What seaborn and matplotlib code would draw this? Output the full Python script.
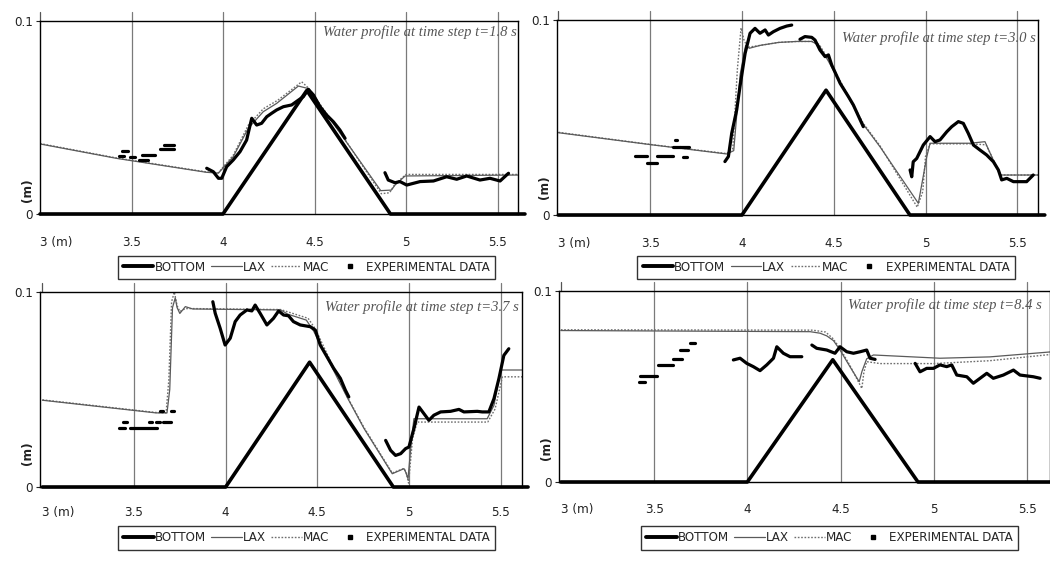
import numpy as np
import pandas as pd
import matplotlib
matplotlib.use("Agg")
import matplotlib.pyplot as plt
from matplotlib.lines import Line2D
from matplotlib import font_manager
import seaborn as sns

# ---------------- data ----------------
X_TICKS = [3.0, 3.5, 4.0, 4.5, 5.0, 5.5]
X_TICK_LABELS = ["3 (m)", "3.5", "4", "4.5", "5", "5.5"]
Y_TICKS = [0.0, 0.1]
Y_TICK_LABELS = ["0", "0.1"]
TITLES = ["Water profile at time step t=1.8 s", "Water profile at time step t=3.0 s",
          "Water profile at time step t=3.7 s", "Water profile at time step t=8.4 s"]
LEGEND_LABELS = ["BOTTOM", "LAX", "MAC", "EXPERIMENTAL DATA"]

BOTTOM_X = [3.0, 4.0, 4.458, 4.915, 5.65]
BOTTOM_Y = [0.0, 0.0, 0.064, 0.0, 0.0]

# panel 1 (t=1.8 s)
P1_LAX_X = [3.0, 3.42, 3.91, 3.975, 4.056, 4.138, 4.22, 4.293, 4.412, 4.466, 4.667, 4.862, 4.92, 4.94, 4.995, 5.62]
P1_LAX_Y = [0.0363, 0.0288, 0.0216, 0.0212, 0.0297, 0.0444, 0.053, 0.0573, 0.0663, 0.065, 0.0383, 0.0121, 0.0124, 0.015, 0.0197, 0.0202]
P1_MAC_X = [3.0, 3.42, 3.91, 3.975, 4.056, 4.138, 4.22, 4.3, 4.43, 4.47, 4.667, 4.865, 4.91, 4.94, 5.0, 5.62]
P1_MAC_Y = [0.0365, 0.029, 0.0218, 0.0214, 0.0305, 0.046, 0.0545, 0.059, 0.0685, 0.065, 0.0385, 0.0105, 0.011, 0.0155, 0.0205, 0.0205]
P1_EXP_X = [3.43, 3.46, None, 3.45, 3.48, None, 3.49, 3.52, None, 3.54, 3.59, None, 3.56, 3.63, None,
            3.655, 3.73, None, 3.68, 3.73, None,
            3.911, 3.947, 3.975, 3.993, 4.02, 4.056, 4.093, 4.129, 4.157, 4.184, 4.211, 4.239, 4.266,
            4.293, 4.33, 4.375, 4.412, 4.439, 4.466, 4.494, 4.53, 4.566, 4.603, 4.639, 4.667, None,
            4.885, 4.903, 4.94, 4.967, 5.004, 5.077, 5.15, 5.222, 5.277, 5.332, 5.404, 5.459, 5.514, 5.56]
P1_EXP_Y = [0.030, 0.030, None, 0.0326, 0.0326, None, 0.0294, 0.0294, None, 0.028, 0.028, None, 0.0306, 0.0306, None,
            0.0337, 0.0337, None, 0.0357, 0.0357, None,
            0.0237, 0.0219, 0.0185, 0.0185, 0.0245, 0.028, 0.0323, 0.0383, 0.0496, 0.0461, 0.047, 0.0504, 0.0522,
            0.0539, 0.0556, 0.0565, 0.059, 0.0608, 0.0646, 0.0617, 0.0556, 0.0513, 0.0478, 0.0435, 0.0392, None,
            0.0214, 0.0176, 0.0162, 0.0168, 0.015, 0.0168, 0.0171, 0.0193, 0.018, 0.0197, 0.0176, 0.0185, 0.0171, 0.0211]

# panel 2 (t=3.0 s)
P2_LAX_X = [3.0, 3.517, 3.917, 3.955, 3.99, 4.02, 4.04, 4.1, 4.2, 4.3, 4.38, 4.42, 4.47, 4.661, 4.752, 4.961, 5.007, 5.025, 5.243, 5.324, 5.406, 5.62]
P2_LAX_Y = [0.0422, 0.0359, 0.0313, 0.033, 0.072, 0.087, 0.0855, 0.087, 0.0885, 0.089, 0.089, 0.087, 0.079, 0.0465, 0.035, 0.006, 0.0299, 0.0368, 0.0368, 0.0376, 0.0205, 0.0205]
P2_MAC_X = [3.0, 3.517, 3.917, 3.95, 3.975, 3.995, 4.01, 4.03, 4.1, 4.2, 4.3, 4.38, 4.42, 4.47, 4.661, 4.752, 4.955, 4.985, 5.0, 5.025, 5.243, 5.33, 5.41, 5.62]
P2_MAC_Y = [0.0424, 0.036, 0.0315, 0.034, 0.075, 0.096, 0.09, 0.086, 0.087, 0.0885, 0.089, 0.089, 0.0875, 0.08, 0.047, 0.0355, 0.004, 0.012, 0.03, 0.0365, 0.0365, 0.036, 0.0205, 0.0205]
P2_EXP_X = [3.417, 3.48, None, 3.48, 3.535, None, 3.535, 3.626, None, 3.626, 3.66, None, 3.635, 3.645, None,
            3.66, 3.71, None, 3.68, 3.70, None,
            3.907, 3.926, 3.944, 3.971, 3.989, 4.017, 4.044, 4.071, 4.098, 4.126, 4.144, 4.171, 4.207, 4.244, 4.271, None,
            4.316, 4.343, 4.38, 4.398, 4.425, 4.453, 4.471, 4.489, 4.535, 4.58, 4.607, 4.661, None,
            4.916, 4.925, 4.933, 4.952, 4.988, 5.025, 5.052, 5.079, 5.116, 5.143, 5.179, 5.206, 5.233, 5.261,
            5.297, 5.333, 5.37, 5.397, 5.415, 5.443, 5.479, 5.551, 5.587]
P2_EXP_Y = [0.0303, 0.0303, None, 0.0268, 0.0268, None, 0.0303, 0.0303, None, 0.035, 0.035, None, 0.0385, 0.0385, None,
            0.035, 0.035, None, 0.030, 0.030, None,
            0.0274, 0.03, 0.0419, 0.0538, 0.0658, 0.0829, 0.0932, 0.0957, 0.0932, 0.0949, 0.0923, 0.094, 0.0957, 0.0969, 0.0974, None,
            0.0901, 0.0915, 0.0911, 0.0897, 0.0846, 0.0812, 0.0821, 0.0769, 0.0675, 0.0607, 0.0564, 0.0453, None,
            0.0231, 0.0196, 0.0273, 0.029, 0.0359, 0.0402, 0.0376, 0.0385, 0.0427, 0.0453, 0.0479, 0.047, 0.0419, 0.0359,
            0.0333, 0.0308, 0.0273, 0.0231, 0.018, 0.0188, 0.0171, 0.0171, 0.0205]

# panel 3 (t=3.7 s)
P3_LAX_X = [3.0, 3.62, 3.68, 3.695, 3.71, 3.725, 3.735, 3.75, 3.78, 3.82, 4.3, 4.34, 4.44, 4.48, 4.662, 4.755, 4.909, 4.973, 4.982, 4.995, 5.01, 5.027, 5.427, 5.464, 5.5, 5.62]
P3_LAX_Y = [0.0445, 0.038, 0.038, 0.05, 0.092, 0.097, 0.092, 0.089, 0.0925, 0.0913, 0.0908, 0.0886, 0.0856, 0.080, 0.0462, 0.030, 0.0068, 0.0094, 0.0077, 0.0043, 0.02, 0.035, 0.035, 0.0419, 0.060, 0.060]
P3_MAC_X = [3.0, 3.62, 3.675, 3.69, 3.705, 3.72, 3.735, 3.75, 3.78, 3.82, 4.3, 4.35, 4.45, 4.49, 4.662, 4.755, 4.909, 4.973, 4.985, 4.998, 5.02, 5.045, 5.43, 5.47, 5.51, 5.62]
P3_MAC_Y = [0.0447, 0.0382, 0.038, 0.055, 0.095, 0.1, 0.093, 0.09, 0.0915, 0.0915, 0.091, 0.0895, 0.0865, 0.081, 0.0465, 0.0305, 0.0072, 0.0095, 0.0075, 0.002, 0.025, 0.0333, 0.0333, 0.040, 0.0565, 0.0565]
P3_EXP_X = [3.42, 3.45, None, 3.478, 3.624, None, 3.44, 3.46, None, 3.58, 3.60, None, 3.62, 3.64, None,
            3.64, 3.66, None, 3.66, 3.70, None, 3.70, 3.72, None,
            3.93, 3.943, 3.97, 3.997, 4.025, 4.052, 4.079, 4.116, 4.143, 4.161, 4.188, 4.225, 4.261, 4.289, 4.316,
            4.343, 4.37, 4.407, 4.462, 4.489, 4.516, 4.589, 4.626, 4.653, 4.672, None,
            4.873, 4.9, 4.927, 4.955, 4.982, 5.0, 5.027, 5.055, 5.082, 5.109, 5.136, 5.173, 5.227, 5.273, 5.3,
            5.373, 5.4, 5.436, 5.464, 5.491, 5.518, 5.545]
P3_EXP_Y = [0.0304, 0.0304, None, 0.0304, 0.0304, None, 0.0335, 0.0335, None, 0.0335, 0.0335, None, 0.0335, 0.0335, None,
            0.039, 0.039, None, 0.0335, 0.0335, None, 0.039, 0.039, None,
            0.095, 0.0891, 0.0814, 0.0728, 0.0763, 0.0848, 0.0882, 0.0908, 0.0903, 0.0933, 0.0891, 0.0831, 0.0865, 0.0903, 0.0882,
            0.0878, 0.0848, 0.0831, 0.0822, 0.0805, 0.0728, 0.0609, 0.0557, 0.0497, 0.0462, None,
            0.0239, 0.0188, 0.0162, 0.0171, 0.0197, 0.0205, 0.0299, 0.041, 0.0376, 0.0342, 0.0368, 0.0385, 0.0388, 0.0398, 0.0385,
            0.0388, 0.0385, 0.0385, 0.0453, 0.0556, 0.0675, 0.0709]

# panel 4 (t=8.4 s)
P4_LAX_X = [3.0, 4.337, 4.39, 4.426, 4.462, 4.497, 4.55, 4.6, 4.615, 4.64, 4.676, 5.033, 5.3, 5.65]
P4_LAX_Y = [0.0793, 0.0787, 0.0779, 0.0765, 0.074, 0.0691, 0.0604, 0.0525, 0.058, 0.0645, 0.0665, 0.0648, 0.0655, 0.0683]
P4_MAC_X = [3.0, 4.35, 4.42, 4.46, 4.5, 4.55, 4.614, 4.625, 4.64, 4.712, 5.0, 5.3, 5.65]
P4_MAC_Y = [0.0797, 0.0795, 0.0785, 0.075, 0.0695, 0.061, 0.049, 0.0575, 0.063, 0.062, 0.062, 0.0635, 0.067]
P4_EXP_X = [3.426, 3.514, None, 3.42, 3.45, None, 3.52, 3.60, None, 3.60, 3.65, None, 3.64, 3.68, None, 3.69, 3.72, None,
            3.925, 3.961, 3.997, 4.032, 4.068, 4.104, 4.14, 4.158, 4.193, 4.229, 4.292, None,
            4.346, 4.372, 4.426, 4.47, 4.497, 4.533, 4.569, 4.605, 4.64, 4.658, 4.685, None,
            4.9, 4.926, 4.962, 4.998, 5.033, 5.069, 5.096, 5.123, 5.177, 5.212, 5.248, 5.284, 5.319, 5.373, 5.427, 5.462, 5.534, 5.57]
P4_EXP_Y = [0.0555, 0.0555, None, 0.0524, 0.0524, None, 0.0613, 0.0613, None, 0.0642, 0.0642, None, 0.0691, 0.0691, None, 0.0726, 0.0726, None,
            0.0639, 0.0648, 0.0621, 0.0604, 0.0583, 0.0613, 0.0648, 0.0708, 0.0674, 0.0656, 0.0656, None,
            0.0717, 0.070, 0.0691, 0.0674, 0.0708, 0.0682, 0.0674, 0.0682, 0.0691, 0.0648, 0.0642, None,
            0.0621, 0.0577, 0.0595, 0.0595, 0.0613, 0.0604, 0.0613, 0.056, 0.0551, 0.0517, 0.0543, 0.0569, 0.0543, 0.056, 0.0586, 0.056, 0.0551, 0.0543]

# ---------------- style ----------------
sns.set_theme(style="white")

# look for a narrow / condensed sans face; fall back to Liberation Sans at a smaller size
narrow_family = None
narrow_stretch = "normal"
for f in font_manager.fontManager.ttflist:
    fn = (f.fname + " " + f.name).lower()
    if ("narrow" in fn or "condensed" in fn) and "sans" in fn and "mono" not in fn \
            and "bold" not in fn and "oblique" not in fn and "italic" not in fn:
        narrow_family = f.name
        narrow_stretch = f.stretch
        break

if narrow_family is not None:
    plt.rcParams["font.family"] = [narrow_family, "DejaVu Sans"]
    plt.rcParams["font.stretch"] = narrow_stretch
    TICK_FS, LEG_FS = 9.5, 9.5
else:
    plt.rcParams["font.family"] = ["Liberation Sans", "DejaVu Sans"]
    TICK_FS, LEG_FS = 9, 8.8

fig = plt.figure(figsize=(10.5, 5.66), dpi=100)

W, H = 1050.0, 566.0
PANELS = [
    dict(box=(40, 21, 518, 214), xlim=(3.0, 5.612), leg=(0.5575, -0.277), tpos=(0.592, 0.943), ylab=0.124, pad=16,
         lax=(P1_LAX_X, P1_LAX_Y), mac=(P1_MAC_X, P1_MAC_Y), exp=(P1_EXP_X, P1_EXP_Y)),
    dict(box=(557, 20, 1038, 215), xlim=(2.992, 5.613), leg=(0.559, -0.269), tpos=(0.5925, 0.908), ylab=0.144, pad=16,
         lax=(P2_LAX_X, P2_LAX_Y), mac=(P2_MAC_X, P2_MAC_Y), exp=(P2_EXP_X, P2_EXP_Y)),
    dict(box=(40, 292, 522, 487), xlim=(2.987, 5.617), leg=(0.553, -0.2615), tpos=(0.591, 0.923), ylab=0.174, pad=14,
         lax=(P3_LAX_X, P3_LAX_Y), mac=(P3_MAC_X, P3_MAC_Y), exp=(P3_EXP_X, P3_EXP_Y)),
    dict(box=(559, 291, 1050, 482), xlim=(2.99, 5.623), leg=(0.551, -0.293), tpos=(0.589, 0.927), ylab=0.178, pad=15,
         lax=(P4_LAX_X, P4_LAX_Y), mac=(P4_MAC_X, P4_MAC_Y), exp=(P4_EXP_X, P4_EXP_Y)),
]


def to_frame(xs, ys):
    rows, seg = [], 0
    for x, y in zip(xs, ys):
        if x is None:
            seg += 1
            continue
        rows.append((x, y, seg))
    return pd.DataFrame(rows, columns=["x", "y", "seg"])


for i, p in enumerate(PANELS):
    l, t, r, b = p["box"]
    ax = fig.add_axes([l / W, 1 - b / H, (r - l) / W, (b - t) / H])
    ax.set_xlim(*p["xlim"])
    ax.set_ylim(0, 0.1)

    # vertical grid lines (extend slightly above the frame)
    for xv in X_TICKS:
        if xv > p["xlim"][0] + 0.02:
            ax.axvline(xv, ymin=0, ymax=1.045, color="#7a7a7a", lw=0.9, clip_on=False, zorder=0)
    ax.axvline(3.0, ymin=1.0, ymax=1.045, color="#555555", lw=0.9, clip_on=False, zorder=0)

    # bottom
    sns.lineplot(x=BOTTOM_X, y=BOTTOM_Y, ax=ax, color="black", lw=2.6, sort=False, estimator=None, legend=False)
    ax.lines[-1].set_clip_on(False)
    # MAC (dotted) and LAX (thin solid)
    sns.lineplot(x=p["mac"][0], y=p["mac"][1], ax=ax, color="#6e6e6e", lw=1.0, linestyle=(0, (1.2, 1.2)),
                 sort=False, estimator=None, legend=False)
    sns.lineplot(x=p["lax"][0], y=p["lax"][1], ax=ax, color="#5a5a5a", lw=0.9, sort=False, estimator=None, legend=False)
    # experimental data
    df = to_frame(*p["exp"])
    sns.lineplot(data=df, x="x", y="y", units="seg", ax=ax, color="black", lw=2.3, sort=False,
                 estimator=None, legend=False)

    for s in ax.spines.values():
        s.set_color("black")
        s.set_linewidth(1.0)
        s.set_visible(True)

    ax.set_xticks(X_TICKS)
    ax.set_xticklabels(X_TICK_LABELS, fontsize=TICK_FS)
    ax.get_xticklabels()[0].set_ha("left")
    ax.set_yticks(Y_TICKS)
    ax.set_yticklabels(Y_TICK_LABELS, fontsize=TICK_FS)
    ax.tick_params(axis="x", length=0, pad=p["pad"], colors="#222222")
    ax.tick_params(axis="y", length=3, width=0.8, direction="out", pad=2, colors="#222222", left=True)
    ax.set_xlabel("")
    ax.set_ylabel("")

    ax.text(-0.026, p["ylab"], "(m)", rotation=90, transform=ax.transAxes, ha="center", va="center",
            fontsize=TICK_FS, fontweight="bold", color="#222222")

    ax.text(p["tpos"][0], p["tpos"][1], TITLES[i], transform=ax.transAxes, ha="left", va="center",
            fontsize=10.5, style="italic", family=["Liberation Serif", "DejaVu Serif"], color="#555555",
            clip_on=False)

    handles = [
        Line2D([], [], color="black", lw=2.8),
        Line2D([], [], color="#5a5a5a", lw=0.9),
        Line2D([], [], color="#6e6e6e", lw=1.0, linestyle=(0, (1.2, 1.2))),
        Line2D([], [], color="black", lw=0, marker="s", markersize=2.2),
    ]
    leg = ax.legend(handles, LEGEND_LABELS, loc="center", bbox_to_anchor=p["leg"], ncol=4,
                    frameon=True, fancybox=False, framealpha=1, edgecolor="#333333",
                    fontsize=LEG_FS, borderpad=0.4, handlelength=2.3, handletextpad=0.1,
                    columnspacing=0.4, borderaxespad=0)
    leg.get_frame().set_linewidth(1.0)

fig.savefig("out.png", dpi=100)
